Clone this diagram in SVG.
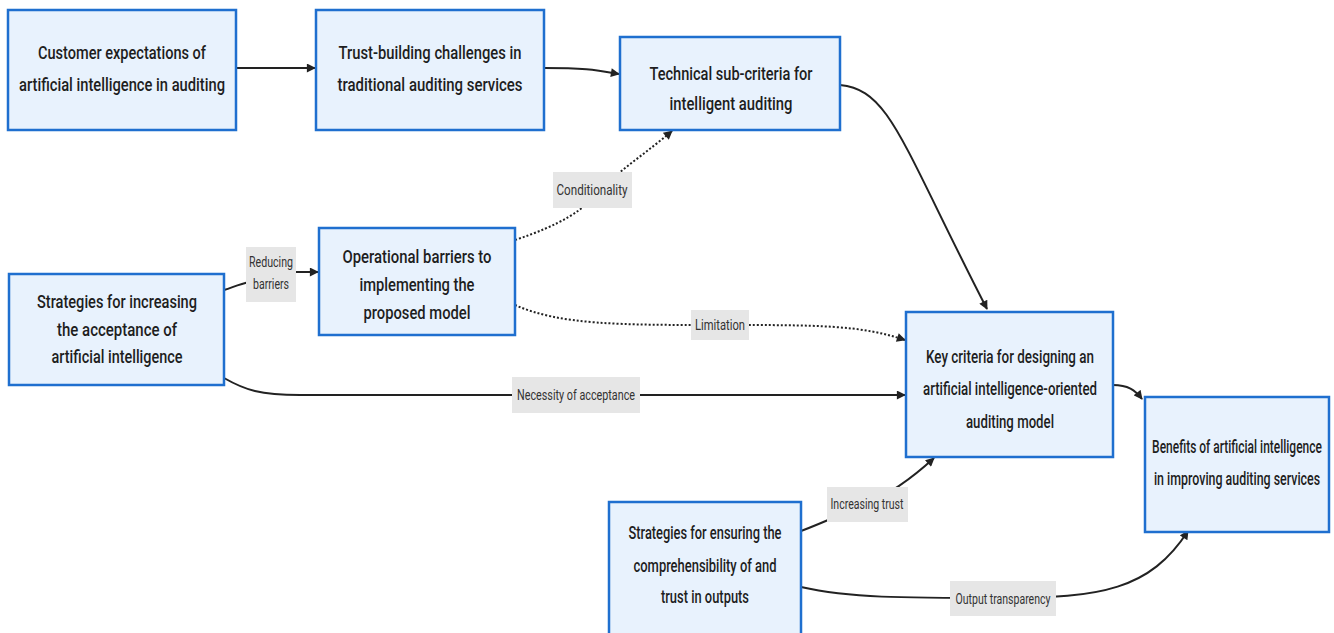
<svg xmlns="http://www.w3.org/2000/svg" width="1334" height="633" viewBox="0 0 1334 633">
<defs>
<style>
.node rect{fill:#e8f2fd;stroke:#1f6fcf;stroke-width:2.5}
.node text{font-family:Roboto,"Liberation Sans",Arial,sans-serif;font-size:19px;font-weight:500;fill:#1e1e1e;text-anchor:middle}
.edge{fill:none;stroke:#222;stroke-width:2}
.dot{stroke-dasharray:2 2}
.lbl rect{fill:#e6e6e6}
.lbl text{font-family:Roboto,"Liberation Sans",Arial,sans-serif;font-size:14px;fill:#333;text-anchor:middle}
</style>
<marker id="ah" viewBox="0 0 10 10" refX="9" refY="5" markerWidth="10" markerHeight="9" orient="auto" markerUnits="userSpaceOnUse">
<path d="M0,0 L10,5 L0,10 z" fill="#222"/>
</marker>
</defs>
<rect width="1334" height="633" fill="#ffffff"/>
<g id="connectors">
<path class="edge" d="M236,68 L315,68" marker-end="url(#ah)"/>
<path class="edge" d="M544,68 C585,68 595,70 619,74" marker-end="url(#ah)"/>
<path class="edge" d="M840,85 C890,90 900,140 987,309" marker-end="url(#ah)"/>
<path class="edge dot" d="M515,240 C560,225 585,210 600,190 C620,170 650,150 672,131" marker-end="url(#ah)"/>
<path class="edge dot" d="M515,305 C560,325 620,325 720,325 C820,325 860,325 905,340" marker-end="url(#ah)"/>
<path class="edge" d="M224,290 C236,286 240,284 250,282 M296,272 L318,272" marker-end="url(#ah)"/>
<path class="edge" d="M224,378 C245,390 260,395 300,395 L905,395" marker-end="url(#ah)"/>
<path class="edge" d="M1113,385 C1128,385 1135,390 1142,399" marker-end="url(#ah)"/>
<path class="edge" d="M801,531 C830,520 845,512 866,504 C890,494 910,480 934,458" marker-end="url(#ah)"/>
<path class="edge" d="M801,587 C850,598 900,598 1003,598 C1100,598 1150,590 1188,531" marker-end="url(#ah)"/>
<g class="lbl"><rect x="553" y="172" width="79" height="36"/><text x="592" y="195" textLength="71" lengthAdjust="spacingAndGlyphs">Conditionality</text></g>
<g class="lbl"><rect x="691" y="310" width="58" height="30"/><text x="720" y="330" textLength="50" lengthAdjust="spacingAndGlyphs">Limitation</text></g>
<g class="lbl"><rect x="246" y="247" width="50" height="55"/><text x="271" y="267" textLength="44" lengthAdjust="spacingAndGlyphs">Reducing</text><text x="271" y="289" textLength="36" lengthAdjust="spacingAndGlyphs">barriers</text></g>
<g class="lbl"><rect x="512" y="377" width="128" height="36"/><text x="576" y="400" textLength="118" lengthAdjust="spacingAndGlyphs">Necessity of acceptance</text></g>
<g class="lbl"><rect x="827" y="487" width="81" height="35"/><text x="867" y="509" textLength="73" lengthAdjust="spacingAndGlyphs">Increasing trust</text></g>
<g class="lbl"><rect x="950" y="581" width="106" height="35"/><text x="1003" y="604" textLength="95" lengthAdjust="spacingAndGlyphs">Output transparency</text></g>
</g>
<g id="n1" class="node"><rect x="8" y="10" width="228" height="120"/><text x="122" y="59" textLength="168" lengthAdjust="spacingAndGlyphs">Customer expectations of</text><text x="122" y="91" textLength="206" lengthAdjust="spacingAndGlyphs">artificial intelligence in auditing</text></g>
<g id="n2" class="node"><rect x="316" y="10" width="228" height="120"/><text x="430" y="59" textLength="183" lengthAdjust="spacingAndGlyphs">Trust-building challenges in</text><text x="430" y="91" textLength="185" lengthAdjust="spacingAndGlyphs">traditional auditing services</text></g>
<g id="n3" class="node"><rect x="620" y="37" width="220" height="93"/><text x="731" y="80" textLength="163" lengthAdjust="spacingAndGlyphs">Technical sub-criteria for</text><text x="731" y="110" textLength="123" lengthAdjust="spacingAndGlyphs">intelligent auditing</text></g>
<g id="n4" class="node"><rect x="319" y="228" width="196" height="107"/><text x="417" y="263" textLength="149" lengthAdjust="spacingAndGlyphs">Operational barriers to</text><text x="417" y="291" textLength="115" lengthAdjust="spacingAndGlyphs">implementing the</text><text x="417" y="319" textLength="107" lengthAdjust="spacingAndGlyphs">proposed model</text></g>
<g id="n5" class="node"><rect x="9" y="274" width="215" height="111"/><text x="117" y="308" textLength="160" lengthAdjust="spacingAndGlyphs">Strategies for increasing</text><text x="117" y="336" textLength="120" lengthAdjust="spacingAndGlyphs">the acceptance of</text><text x="117" y="363" textLength="131" lengthAdjust="spacingAndGlyphs">artificial intelligence</text></g>
<g id="n6" class="node"><rect x="906" y="312" width="207" height="145"/><text x="1010" y="363" textLength="168" lengthAdjust="spacingAndGlyphs">Key criteria for designing an</text><text x="1010" y="395" textLength="174" lengthAdjust="spacingAndGlyphs">artificial intelligence-oriented</text><text x="1010" y="428" textLength="88" lengthAdjust="spacingAndGlyphs">auditing model</text></g>
<g id="n7" class="node"><rect x="1145" y="397" width="184" height="135"/><g transform="translate(1237,0) scale(0.6,1)"><text x="0" y="453" textLength="283" lengthAdjust="spacingAndGlyphs">Benefits of artificial intelligence</text><text x="0" y="485" textLength="277" lengthAdjust="spacingAndGlyphs">in improving auditing services</text></g></g>
<g id="n8" class="node"><rect x="609" y="502" width="192" height="140"/><text x="705" y="539" textLength="153" lengthAdjust="spacingAndGlyphs">Strategies for ensuring the</text><text x="705" y="572" textLength="143" lengthAdjust="spacingAndGlyphs">comprehensibility of and</text><text x="705" y="603" textLength="88" lengthAdjust="spacingAndGlyphs">trust in outputs</text></g>
</svg>
